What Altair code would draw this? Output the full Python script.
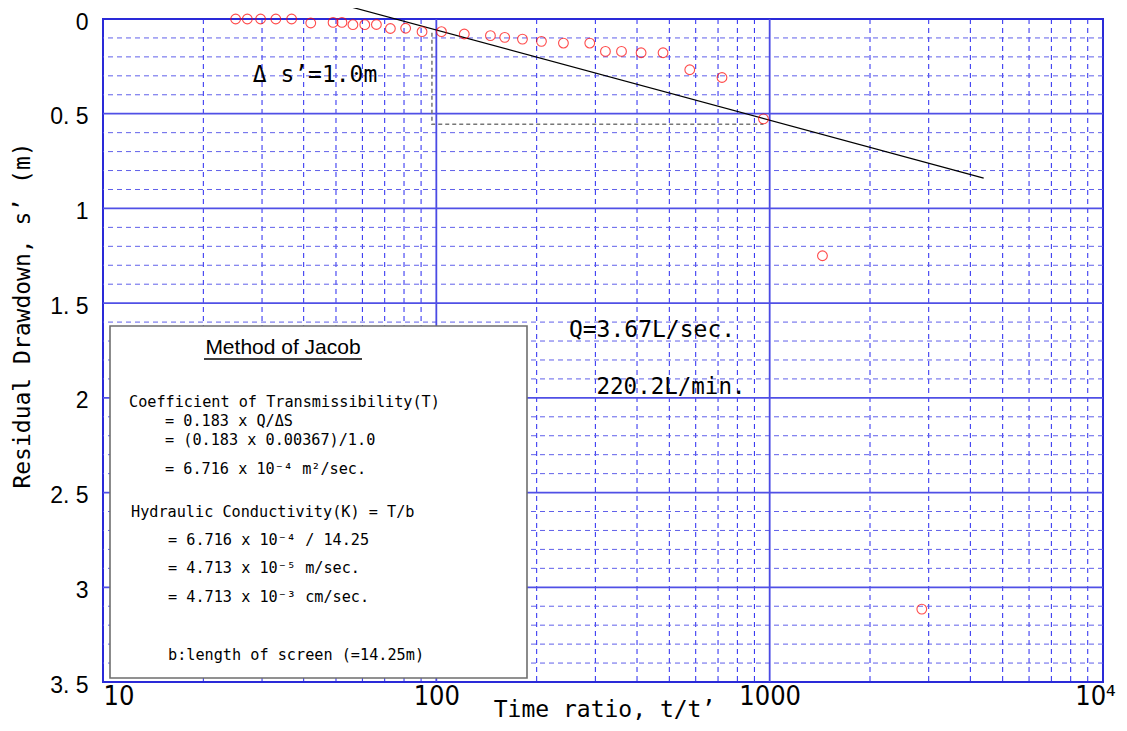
import altair as alt
import pandas as pd

# ---- data ----
t_ratio = [25.0, 27.1, 29.7, 33.0, 36.8, 42.0, 49.0, 52.1, 56.2, 61.0, 66.1,
           72.8, 80.9, 90.6, 103.6, 121.3, 145.3, 160.4, 181.3, 206.7, 240.6,
           288.6, 321.6, 359.3, 411.4, 478.8, 575.8, 719.4, 958.0, 1440.0, 2860.0]
drawdown = [0.0, 0.0, 0.0, 0.0, 0.0, 0.021, 0.018, 0.018, 0.030, 0.030, 0.029,
            0.050, 0.049, 0.067, 0.067, 0.079, 0.088, 0.097, 0.106, 0.118, 0.127,
            0.127, 0.171, 0.171, 0.178, 0.178, 0.268, 0.309, 0.527, 1.250, 3.115]

fit_t = [55.6, 4385.0]
fit_s = [-0.063, 0.840]

guide_t = [97.0, 97.0, 958.0]
guide_s = [0.072, 0.556, 0.556]
guide_order = [0, 1, 2]

x_major = [10, 100, 1000, 10000]
x_minor = [k * 10 ** e for e in (1, 2, 3) for k in range(2, 10)]
y_major = [0.0, 0.5, 1.0, 1.5, 2.0, 2.5, 3.0, 3.5]
y_minor = [round(i * 0.1, 1) for i in range(1, 35) if i % 5 != 0]

box_title = "Method of Jacob"
box_lines = [
    "Coefficient of Transmissibility(T)",
    "= 0.183 x Q/ΔS",
    "= (0.183 x 0.00367)/1.0",
    "= 6.716 x 10⁻⁴ m²/sec.",
    "Hydraulic Conductivity(K) = T/b",
    "= 6.716 x 10⁻⁴ / 14.25",
    "= 4.713 x 10⁻⁵ m/sec.",
    "= 4.713 x 10⁻³ cm/sec.",
    "b:length of screen (=14.25m)",
]
label_ds = "Δ s’=1.0m"
label_q1 = "Q=3.67L/sec."
label_q2 = "220.2L/min."

MONO = "DejaVu Sans Mono"
NARROW = "Liberation Sans Narrow, DejaVu Sans Condensed, Liberation Sans"

xs = alt.Scale(type="log", domain=[10, 10000], nice=False)
ys = alt.Scale(domain=[0, 3.5], reverse=True, nice=False, zero=False)

xaxis = alt.Axis(
    values=x_major,
    labelExpr="datum.value == 10000 ? '10⁴' : toString(datum.value)",
    title="Time ratio, t/t’",
    grid=False, ticks=False, domain=False,
    labelFont=NARROW, labelFontSize=27, labelColor="black",
    labelPadding=1, labelBaseline="top", labelFlush=False,
    labelAlign={"condition": {"test": "datum.value <= 10", "value": "left"},
                "value": "center"},
    labelOffset={"condition": {"test": "datum.value >= 10000", "value": -8}, "value": 0},
    titleFont=MONO, titleFontSize=23, titleFontWeight="normal", titleColor="black",
    titleX=501, titleY=27, titleBaseline="middle", titleAlign="center",
)
yaxis = alt.Axis(
    values=y_major,
    labelExpr="replace(toString(datum.value), '.', '. ')",
    title="Residual Drawdown, s’ (m)",
    grid=False, ticks=False, domain=False,
    labelFont="Liberation Sans", labelFontSize=23, labelColor="black",
    labelPadding=15, labelOffset=3, labelFlush=False, labelBaseline="middle",
    titleFont=MONO, titleFontSize=23, titleFontWeight="normal", titleColor="black",
    titleX=-81, titleY=296, titleAngle=270, titleBaseline="middle", titleAlign="center",
)

dummy = pd.DataFrame({"a": [0]})

minor_v = alt.Chart(pd.DataFrame({"t": x_minor})).mark_rule(
    color="#2828f0", strokeDash=[5, 4], strokeWidth=1
).encode(x=alt.X("t:Q", scale=xs, axis=xaxis))

minor_h = alt.Chart(pd.DataFrame({"s": y_minor})).mark_rule(
    color="#6060ea", strokeDash=[5, 4], strokeWidth=1
).encode(y=alt.Y("s:Q", scale=ys, axis=yaxis))

major_v = alt.Chart(pd.DataFrame({"t": x_major[1:-1]})).mark_rule(
    color="#4a4ae4", strokeWidth=1.8
).encode(x=alt.X("t:Q", scale=xs, axis=xaxis))

major_h = alt.Chart(pd.DataFrame({"s": y_major[1:-1]})).mark_rule(
    color="#5050e6", strokeWidth=1.8
).encode(y=alt.Y("s:Q", scale=ys, axis=yaxis))

guide = alt.Chart(pd.DataFrame({"t": guide_t, "s": guide_s, "o": guide_order})).mark_line(
    color="#777777", strokeDash=[4, 3], strokeWidth=1.5
).encode(
    x=alt.X("t:Q", scale=xs, axis=xaxis),
    y=alt.Y("s:Q", scale=ys, axis=yaxis),
    order="o:Q",
)

fit = alt.Chart(pd.DataFrame({"t": fit_t, "s": fit_s})).mark_line(
    color="black", strokeWidth=1.2, clip=False
).encode(
    x=alt.X("t:Q", scale=xs, axis=xaxis),
    y=alt.Y("s:Q", scale=ys, axis=yaxis),
)

points = alt.Chart(pd.DataFrame({"t": t_ratio, "s": drawdown})).mark_point(
    shape="circle", filled=False, color="#ff0000", size=95, strokeWidth=1.1, clip=False
).encode(
    x=alt.X("t:Q", scale=xs, axis=xaxis),
    y=alt.Y("s:Q", scale=ys, axis=yaxis),
)

box = alt.Chart(dummy).mark_rect(
    fill="white", stroke="#6e6e6e", strokeWidth=1.6
).encode(x=alt.value(7), x2=alt.value(424), y=alt.value(307), y2=alt.value(659))

layers = [minor_v, minor_h, major_v, major_h, guide, box, fit, points]

def txt(s, x, y, size, font=MONO, align="left"):
    return alt.Chart(dummy).mark_text(
        text=s, align=align, baseline="middle", font=font, fontSize=size, color="black"
    ).encode(x=alt.value(x), y=alt.value(y))

layers.append(txt(box_title, 180, 329, 21, font="Liberation Sans", align="center"))
layers.append(
    alt.Chart(dummy).mark_rule(color="black", strokeWidth=1.5).encode(
        x=alt.value(101), x2=alt.value(259), y=alt.value(340)
    )
)
line_pos = [(26, 383), (62, 402), (62, 421), (62, 450), (28, 493),
            (65, 521), (65, 549), (65, 578), (65, 636)]
for s, (x, y) in zip(box_lines, line_pos):
    layers.append(txt(s, x, y, 15.2))

layers.append(txt(label_ds, 212, 56, 23, align="center"))
layers.append(txt(label_q1, 549, 311, 23, align="center"))
layers.append(txt(label_q2, 568, 368, 22.5, align="center"))

chart = alt.layer(*layers).properties(
    width=1000, height=663,
    autosize=alt.AutoSizeParams(type="none"),
    padding={"left": 95, "top": 11, "right": 15, "bottom": 41},
).configure_view(stroke="#2a2ad8", strokeWidth=2)

chart.save("out.html", embed_options={"renderer": "svg", "actions": False})
